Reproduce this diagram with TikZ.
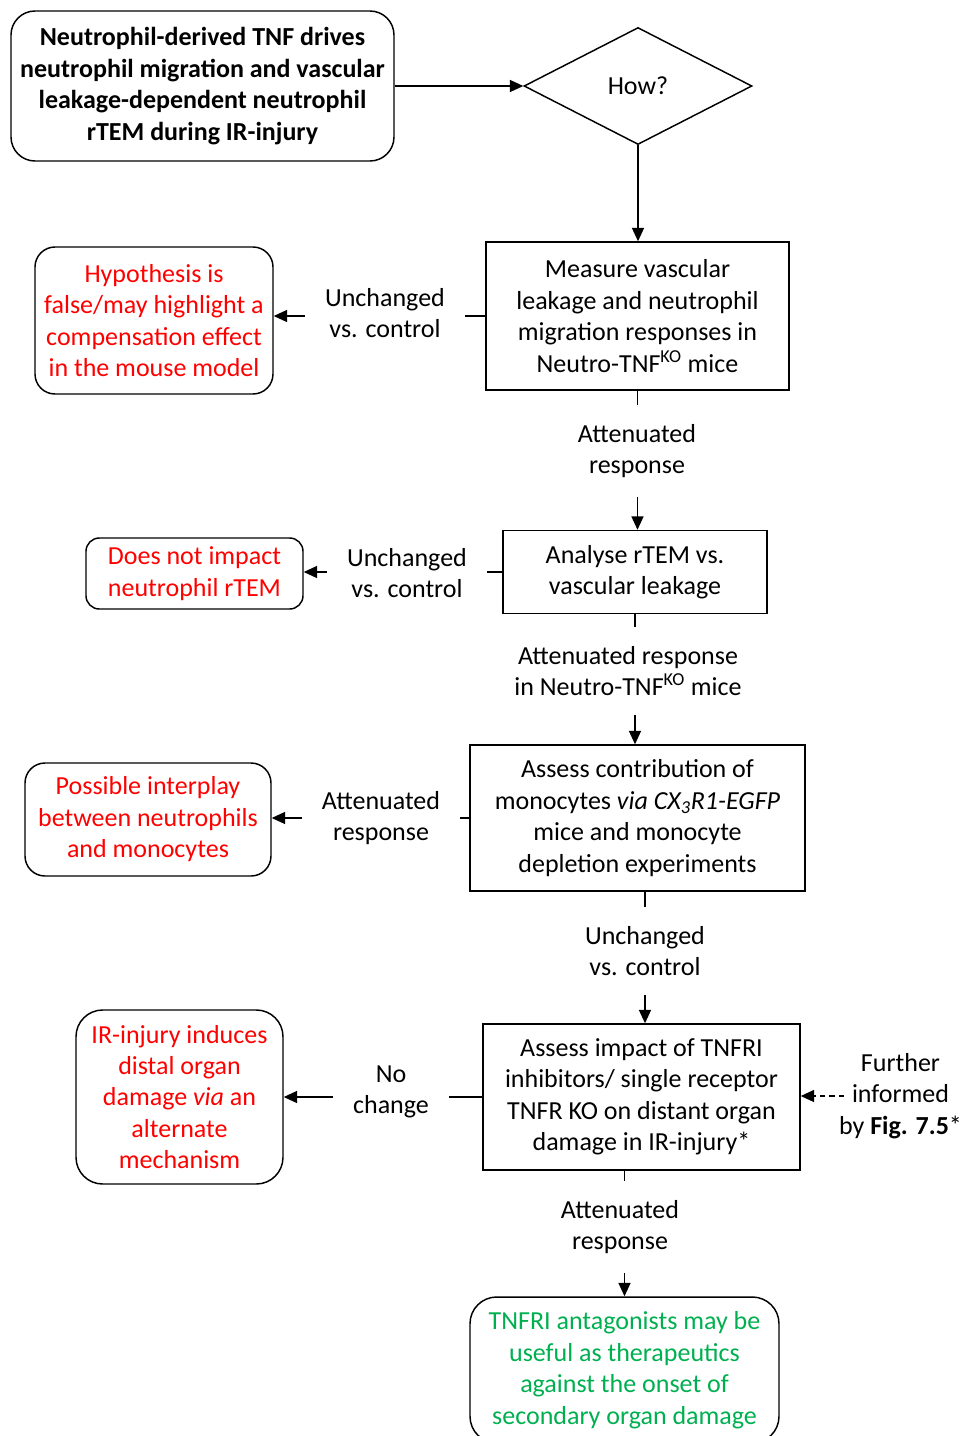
\documentclass[tikz,border=0pt]{standalone}
\usepackage{fontspec}
\setmainfont{Carlito}
\usetikzlibrary{shapes.geometric,arrows.meta}
\definecolor{redtxt}{RGB}{255,0,0}
\definecolor{greentxt}{RGB}{0,176,80}
\begin{document}
\begin{tikzpicture}[x=0.75pt,y=-0.75pt,
  every node/.style={font=\fontsize{19.5}{23.6}\selectfont, align=center},
  size/.style 2 args={minimum width=#1*0.75pt, minimum height=#2*0.75pt},
  stepbox/.style={draw, line width=1.1pt, inner sep=0pt},
  roundbox/.style={stepbox, rounded corners=15pt},
  lbl/.style={inner xsep=15pt, inner ysep=14pt},
  link/.style={line width=1pt},
  arr/.style={link, -{Triangle[length=10pt,width=9pt]}},
]
\useasboundingbox (0,0) rectangle (967,1436);

% question and decision
\node[roundbox, rounded corners=18pt, size={383}{150},
      font={\fontsize{19.5}{23.6}\selectfont\bfseries}] (q) at (202.5,86)
  {Neutrophil-derived TNF drives\\neutrophil migration and vascular\\leakage-dependent neutrophil\\rTEM during IR-injury};
\node[diamond, draw, line width=1.1pt, size={228}{117}, inner sep=0pt] (how) at (638,86) {How?};

% experimental steps
\node[stepbox, size={303}{148}] (m) at (637.5,316)
  {Measure vascular\\leakage and neutrophil\\migration responses in\\Neutro-TNF\textsuperscript{KO} mice};
\node[stepbox, size={264}{83}] (an) at (635,572)
  {Analyse rTEM vs.\\vascular leakage};
\node[stepbox, size={335}{146}] (ac) at (637.5,818)
  {Assess contribution of\\monocytes \textit{via CX\textsubscript{3}R1-EGFP}\\mice and monocyte\\depletion experiments};
\node[stepbox, size={317}{146}] (ai) at (641.5,1097)
  {Assess impact of TNFRI\\inhibitors/ single receptor\\TNFR KO on distant organ\\damage in IR-injury*};

% outcomes
\node[roundbox, text=redtxt, size={238}{147}] (h) at (154,320.5)
  {Hypothesis is\\false/may highlight a\\compensation effect\\in the mouse model};
\node[roundbox, rounded corners=10pt, text=redtxt, size={217}{71}] (r2) at (194.5,573.5)
  {Does not impact\\neutrophil rTEM};
\node[roundbox, text=redtxt, size={246}{113}] (r3) at (148,819.5)
  {Possible interplay\\between neutrophils\\and monocytes};
\node[roundbox, rounded corners=20pt, text=redtxt, size={207}{174}] (r4) at (179.5,1097)
  {IR-injury induces\\distal organ\\damage \textit{via} an\\alternate\\mechanism};
\node[roundbox, rounded corners=20pt, text=greentxt, size={309}{146}] (g) at (624.5,1370)
  {TNFRI antagonists may be\\useful as therapeutics\\against the onset of\\secondary organ damage};

% connector labels
\node[lbl] (l1) at (385,313) {Unchanged\\vs. control};
\node[lbl] (l2) at (637,451) {Attenuated\\response};
\node[lbl] (l3) at (407,573) {Unchanged\\vs. control};
\node[lbl] (l4) at (628,671) {Attenuated response\\in Neutro-TNF\textsuperscript{KO} mice};
\node[lbl] (l5) at (381,818) {Attenuated\\response};
\node[lbl] (l6) at (645,951) {Unchanged\\vs. control};
\node[lbl] (l7) at (391,1092) {No\\change};
\node[inner sep=0pt] (l8) at (900.5,1096) {Further\\informed\\by \textbf{Fig. 7.5}*};
\node[lbl] (l9) at (620,1227) {Attenuated\\response};

% connectors
\draw[arr] (q.east) -- (how.west);
\draw[arr] (how.south) -- (m.north -| how.south);

\draw[link] (m.west) -- (l1.east |- m.west);
\draw[arr] (l1.west |- m.west) -- (h.east |- m.west);
\draw[link] (m.south) -- (m.south |- l2.north);
\draw[arr] (m.south |- l2.south) -- (an.north -| m.south);

\draw[link] (an.west) -- (l3.east |- an.west);
\draw[arr] (l3.west |- an.west) -- (r2.east |- an.west);
\draw[link] (an.south) -- (an.south |- l4.north);
\draw[arr] (an.south |- l4.south) -- (ac.north -| an.south);

\draw[link] (ac.west) -- (l5.east |- ac.west);
\draw[arr] (l5.west |- ac.west) -- (r3.east |- ac.west);
\draw[link] (ac.south -| l6) -- (l6.north);
\draw[arr] (l6.south) -- (ai.north -| l6);

\draw[link] (ai.west) -- (l7.east |- ai.west);
\draw[arr] (l7.west |- ai.west) -- (r4.east |- ai.west);
\draw[arr, dash pattern=on 4pt off 3pt] ([xshift=4pt]l8.west) -- (ai.east |- l8.west);
\draw[link] (ai.south -| g.north) -- (l9.north -| g.north);
\draw[arr] (l9.south -| g.north) -- (g.north);
\end{tikzpicture}
\end{document}
